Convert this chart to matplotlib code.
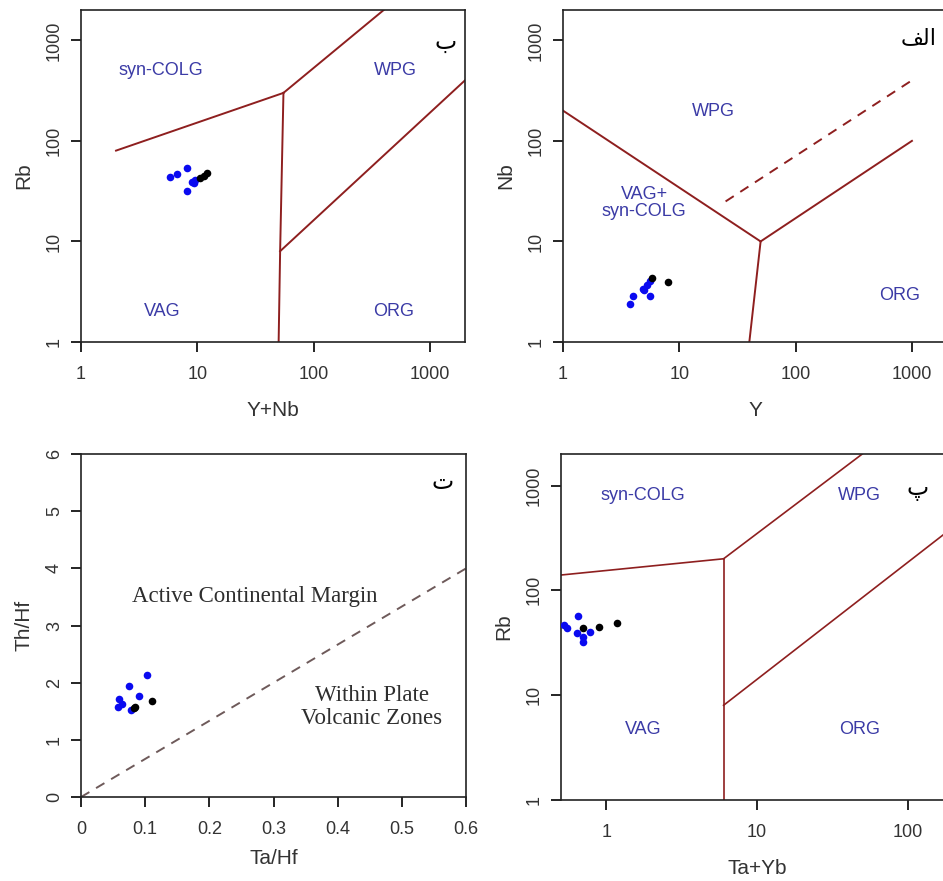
# tectonic discrimination diagrams (Pearce et al. 1984 + Th/Hf vs Ta/Hf)
import matplotlib
matplotlib.use("Agg")
import matplotlib.pyplot as plt
from matplotlib.ticker import FixedLocator, FixedFormatter, NullLocator

plt.rcParams["font.family"] = ["Liberation Sans", "DejaVu Sans"]

LINE_C = "#8e1f1f"
REGION_C = "#3b3ba6"
TEXT_C = "#333333"

# panel ب : Rb vs Y+Nb
p1_blue_x = [5.8, 6.7, 8.2, 9.0, 8.2, 9.6, 9.3]
p1_blue_y = [44, 47, 54, 39, 32, 41, 38]
p1_black_x = [10.6, 11.5, 12.2]
p1_black_y = [43, 45, 48]
p1_lines = [([2, 55], [80, 300]), ([55, 400], [300, 2000]),
            ([55, 51.5, 50], [300, 8, 1]), ([51.5, 2000], [8, 400])]

# panel الف : Nb vs Y
p2_blue_x = [3.8, 4.0, 5.6, 4.9, 5.3, 5.6, 5.0]
p2_blue_y = [2.4, 2.9, 2.9, 3.4, 3.7, 4.0, 3.3]
p2_black_x = [5.85, 8.0]
p2_black_y = [4.35, 3.95]
p2_lines = [([1, 50], [200, 10]), ([50, 40], [10, 1]), ([50, 1000], [10, 100])]
p2_dashed = ([25, 1000], [25, 400])

# panel ت : Th/Hf vs Ta/Hf
p3_blue_x = [0.103, 0.075, 0.091, 0.059, 0.064, 0.058, 0.078]
p3_blue_y = [2.13, 1.94, 1.77, 1.71, 1.63, 1.57, 1.53]
p3_black_x = [0.084, 0.082, 0.11]
p3_black_y = [1.57, 1.55, 1.68]
p3_dashed = ([0, 0.6], [0, 4])

# panel پ : Rb vs Ta+Yb
p4_blue_x = [0.52, 0.55, 0.65, 0.64, 0.70, 0.70, 0.78]
p4_blue_y = [47, 44, 57, 39, 36, 32, 40]
p4_black_x = [0.70, 0.90, 1.18]
p4_black_y = [44, 45, 49]
p4_lines = [([0.5, 6], [140, 200]), ([6, 50], [200, 2000]),
            ([6, 6], [200, 1]), ([6, 200], [8, 400])]

log_ticks = [1, 10, 100, 1000]
log_labels = ["1", "10", "100", "1000"]


def style(ax, xt, xl, yt, yl, xlabel, ylabel, xpad=13):
    ax.xaxis.set_major_locator(FixedLocator(xt))
    ax.xaxis.set_major_formatter(FixedFormatter(xl))
    ax.yaxis.set_major_locator(FixedLocator(yt))
    ax.yaxis.set_major_formatter(FixedFormatter(yl))
    ax.xaxis.set_minor_locator(NullLocator())
    ax.yaxis.set_minor_locator(NullLocator())
    ax.tick_params(axis="x", direction="out", length=7, width=1.2, pad=10,
                   labelsize=13, labelcolor=TEXT_C)
    ax.tick_params(axis="y", direction="out", length=7, width=1.2, pad=6,
                   labelsize=13, labelcolor=TEXT_C)
    for lab in ax.get_yticklabels():
        lab.set_rotation(90)
        lab.set_va("center")
    for s in ax.spines.values():
        s.set_linewidth(1.2)
        s.set_color("#222222")
    ax.set_xlabel(xlabel, fontsize=15, color=TEXT_C, labelpad=xpad)
    ax.set_ylabel(ylabel, fontsize=15, color=TEXT_C, labelpad=9)


def points(ax, bx, by, kx, ky):
    ax.scatter(bx, by, s=30, color="#0a0af0", zorder=3, linewidths=0)
    ax.scatter(kx, ky, s=30, color="black", zorder=3, linewidths=0)


fig = plt.figure(figsize=(9.43, 8.81), dpi=100)

# ---- top left (ب)
ax1 = fig.add_axes([0.0859, 0.6118, 0.4072, 0.3768])
ax1.set_xscale("log")
ax1.set_yscale("log")
ax1.set_xlim(1, 2000)
ax1.set_ylim(1, 2000)
for xs, ys in p1_lines:
    ax1.plot(xs, ys, color=LINE_C, lw=1.4)
points(ax1, p1_blue_x, p1_blue_y, p1_black_x, p1_black_y)
ax1.text(4.9, 500, "syn-COLG", color=REGION_C, fontsize=13, ha="center", va="center")
ax1.text(500, 500, "WPG", color=REGION_C, fontsize=13, ha="center", va="center")
ax1.text(5.0, 2.0, "VAG", color=REGION_C, fontsize=13, ha="center", va="center")
ax1.text(490, 2.0, "ORG", color=REGION_C, fontsize=13, ha="center", va="center")
ax1.text(0.95, 0.905, "ب", transform=ax1.transAxes, fontsize=17,
         family=["DejaVu Sans"], ha="center", va="center")
style(ax1, log_ticks, log_labels, log_ticks, log_labels, "Y+Nb", "Rb")

# ---- top right (الف)
ax2 = fig.add_axes([0.5970, 0.6118, 0.4072, 0.3768])
ax2.set_xscale("log")
ax2.set_yscale("log")
ax2.set_xlim(1, 2000)
ax2.set_ylim(1, 2000)
for xs, ys in p2_lines:
    ax2.plot(xs, ys, color=LINE_C, lw=1.4)
ax2.plot(p2_dashed[0], p2_dashed[1], color=LINE_C, lw=1.4, dashes=(5, 4))
points(ax2, p2_blue_x, p2_blue_y, p2_black_x, p2_black_y)
ax2.text(19.6, 196, "WPG", color=REGION_C, fontsize=13, ha="center", va="center")
ax2.text(5.0, 24, "VAG+\nsyn-COLG", color=REGION_C, fontsize=13, ha="center",
         va="center", linespacing=1.0)
ax2.text(776, 2.9, "ORG", color=REGION_C, fontsize=13, ha="center", va="center")
# presentation forms so the word shows joined, right to left
ax2.text(0.925, 0.915, "\uFED2\uFEDF\uFE8D", transform=ax2.transAxes, fontsize=16,
         family=["DejaVu Sans"], ha="center", va="center")
style(ax2, log_ticks, log_labels, log_ticks, log_labels, "Y", "Nb")

# ---- bottom left (ت)
ax3 = fig.add_axes([0.0859, 0.0953, 0.4083, 0.3893])
ax3.set_xlim(0, 0.6)
ax3.set_ylim(0, 6)
ax3.plot(p3_dashed[0], p3_dashed[1], color="#6e5a5a", lw=1.4, dashes=(5, 4))
points(ax3, p3_blue_x, p3_blue_y, p3_black_x, p3_black_y)
ax3.text(0.271, 3.51, "Active Continental Margin", family=["Liberation Serif"],
         fontsize=16.5, color="#2e2e2e", ha="center", va="center")
ax3.text(0.453, 1.57, "Within Plate\nVolcanic Zones", family=["Liberation Serif"],
         fontsize=16.5, color="#2e2e2e", ha="center", va="center", linespacing=1.1)
ax3.text(0.94, 0.92, "ت", transform=ax3.transAxes, fontsize=17,
         family=["DejaVu Sans"], ha="center", va="center")
xt3 = [0, 0.1, 0.2, 0.3, 0.4, 0.5, 0.6]
yt3 = [0, 1, 2, 3, 4, 5, 6]
style(ax3, xt3, ["0", "0.1", "0.2", "0.3", "0.4", "0.5", "0.6"],
      yt3, [str(v) for v in yt3], "Ta/Hf", "Th/Hf", xpad=8)

# ---- bottom right (پ)
ax4 = fig.add_axes([0.5949, 0.0920, 0.4157, 0.3927])
ax4.set_xscale("log")
ax4.set_yscale("log")
ax4.set_xlim(0.5, 200)
ax4.set_ylim(1, 2000)
for xs, ys in p4_lines:
    ax4.plot(xs, ys, color=LINE_C, lw=1.2)
points(ax4, p4_blue_x, p4_blue_y, p4_black_x, p4_black_y)
ax4.text(1.76, 800, "syn-COLG", color=REGION_C, fontsize=13, ha="center", va="center")
ax4.text(48, 800, "WPG", color=REGION_C, fontsize=13, ha="center", va="center")
ax4.text(1.76, 4.7, "VAG", color=REGION_C, fontsize=13, ha="center", va="center")
ax4.text(48, 4.7, "ORG", color=REGION_C, fontsize=13, ha="center", va="center")
ax4.text(0.91, 0.9, "پ", transform=ax4.transAxes, fontsize=17,
         family=["DejaVu Sans"], ha="center", va="center")
style(ax4, [1, 10, 100], ["1", "10", "100"], log_ticks, log_labels, "Ta+Yb", "Rb")

fig.savefig("out.png", dpi=100)
plt.close(fig)
